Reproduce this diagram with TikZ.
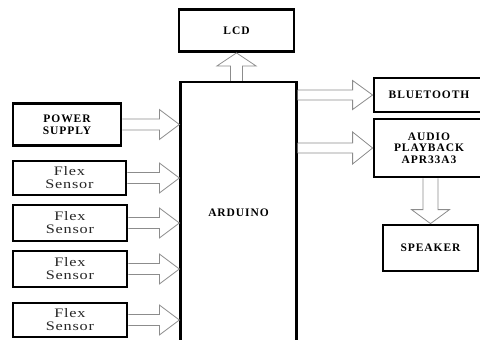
\documentclass[tikz,border=0pt]{standalone}
\usepackage{fontspec}
\setmainfont{Liberation Serif}
\newfontfamily\lblfont[LetterSpace=8]{Liberation Serif}
\newfontfamily\flexfont[FakeStretch=1.25,LetterSpace=6]{Liberation Serif}
\usetikzlibrary{calc}
\begin{document}
\begin{tikzpicture}[x=1pt,y=-1pt,
  box/.style={draw=black, line width=2.8pt, fill=white, inner sep=0pt, align=center},
  lbl/.style={font=\lblfont\bfseries\fontsize{11.5}{11.5}\selectfont},
  flex/.style={font=\flexfont\fontsize{13}{13}\selectfont, text=black!85},
  blk/.style={draw=black!45, line width=0.8pt, fill=white, line join=miter}]
\useasboundingbox (0,0) rectangle (480,340);
\clip (0,0) rectangle (480,340);
\fill[white] (0,0) rectangle (480,340);

\node[box, lbl, minimum width=115, minimum height=42] (lcd) at (236.5,30.5) {LCD};
\node[box, lbl, line width=2.2pt, minimum width=116, minimum height=262] (ard) at (238.5,213) {ARDUINO};
\node[box, lbl, minimum width=108, minimum height=42] (ps) at (67,124.5) {POWER\\SUPPLY};
\node[box, flex, minimum width=113, minimum height=34] (f1) at (69.5,178) {Flex\\Sensor};
\node[box, flex, minimum width=114, minimum height=36] (f2) at (70,223) {Flex\\Sensor};
\node[box, flex, minimum width=114, minimum height=36] (f3) at (70,269) {Flex\\Sensor};
\node[box, flex, minimum width=114, minimum height=34] (f4) at (70,320) {Flex\\Sensor};
\node[box, lbl, minimum width=110, minimum height=34] (bt) at (429,95) {BLUETOOTH};
\node[box, lbl, minimum width=110, minimum height=58] (au) at (429,148) {AUDIO\\PLAYBACK\\APR33A3};
\node[box, lbl, minimum width=95, minimum height=46] (sp) at (430.5,248) {SPEAKER};

% left block arrows into Arduino
\foreach \s in {ps,f1,f2,f3,f4}{
  \draw[blk] let \p1=(\s.east), \p2=(ard.west) in
    (\x1,\y1+5.5) -- (\x2-20,\y1+5.5) -- (\x2-20,\y1+15) -- (\x2,\y1)
    -- (\x2-20,\y1-15) -- (\x2-20,\y1-5.5) -- (\x1,\y1-5.5);
}
% right block arrows out of Arduino
\draw[blk] let \p1=(bt.west), \p2=(ard.east) in
    (\x2,\y1+5) -- (\x1-20,\y1+5) -- (\x1-20,\y1+14.5) -- (\x1,\y1)
    -- (\x1-20,\y1-14.5) -- (\x1-20,\y1-5) -- (\x2,\y1-5);
\draw[blk] let \p1=(au.west), \p2=(ard.east) in
    (\x2,\y1+5) -- (\x1-20,\y1+5) -- (\x1-20,\y1+16) -- (\x1,\y1)
    -- (\x1-20,\y1-16) -- (\x1-20,\y1-5) -- (\x2,\y1-5);
% up arrow to LCD
\draw[blk] let \p1=(lcd.south), \p2=(ard.north) in
    (\x1-6,\y2) -- (\x1-6,\y1-13) -- (\x1-19.5,\y1-13) -- (\x1,\y1)
    -- (\x1+19.5,\y1-13) -- (\x1+6,\y1-13) -- (\x1+6,\y2);
% down arrow to speaker
\draw[blk] let \p1=(au.south), \p2=(sp.north) in
    (\x2-7.5,\y1) -- (\x2-7.5,\y2+14) -- (\x2-19,\y2+14) -- (\x2,\y2)
    -- (\x2+19,\y2+14) -- (\x2+7.5,\y2+14) -- (\x2+7.5,\y1);
\end{tikzpicture}
\end{document}
